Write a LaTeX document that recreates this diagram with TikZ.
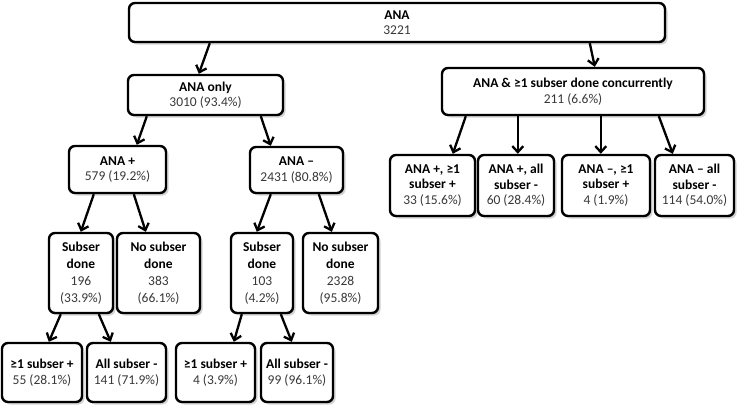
\documentclass[tikz,border=0pt]{standalone}
\usepackage{fontspec}
\setmainfont{Carlito}
\usetikzlibrary{arrows.meta,shadows}
\definecolor{numtxt}{HTML}{383838}
\tikzset{
  box/.style={draw=black, line width=2.4pt, rounded corners=6pt, fill=white,
    align=center, inner sep=0pt, font=\fontsize{13.5}{15.5}\selectfont,
    drop shadow={opacity=0.35, shadow xshift=2.5pt, shadow yshift=-2.5pt}},
  tallbox/.style={box, font=\fontsize{13.5}{17}\selectfont},
  conn/.style={line width=2.3pt, -{Straight Barb[length=6pt,width=11pt,line width=2.3pt]}}
}
\newcommand{\hd}[1]{\textbf{#1}}
\newcommand{\nm}[1]{\textcolor{numtxt}{#1}}
\begin{document}
\begin{tikzpicture}[x=1pt,y=-1pt]
\useasboundingbox (0,0) rectangle (744,407);
% row 0
\node[box, minimum width=536pt, minimum height=39pt] (ana) at (397,22.5) {\hd{ANA}\\\nm{3221}};
% row 1
\node[box, minimum width=155pt, minimum height=40pt] (only) at (205.5,95) {\hd{ANA only}\\\nm{3010 (93.4\%)}};
\node[box, minimum width=262pt, minimum height=47pt] (conc) at (573,91.5) {\hd{ANA \& ≥1 subser done concurrently}\\\nm{211 (6.6\%)}};
% concurrent children
\node[box, minimum width=85pt, minimum height=61pt] (c1) at (432.5,185.5) {\hd{ANA +, ≥1}\\\hd{subser +}\\\nm{33 (15.6\%)}};
\node[box, minimum width=76pt, minimum height=61pt] (c2) at (516,185.5) {\hd{ANA +, all}\\\hd{subser -}\\\nm{60 (28.4\%)}};
\node[box, minimum width=88pt, minimum height=61pt] (c3) at (606,185.5) {\hd{ANA –, ≥1}\\\hd{subser +}\\\nm{4 (1.9\%)}};
\node[box, minimum width=79pt, minimum height=61pt] (c4) at (694.5,185.5) {\hd{ANA – all}\\\hd{subser -}\\\nm{114 (54.0\%)}};
% row 2
\node[box, minimum width=97pt, minimum height=47pt] (anap) at (117.5,169.5) {\hd{ANA +}\\\nm{579 (19.2\%)}};
\node[box, minimum width=93pt, minimum height=46pt] (anam) at (296.5,170) {\hd{ANA –}\\\nm{2431 (80.8\%)}};
% row 3
\node[tallbox, minimum width=64pt, minimum height=80pt] (sd1) at (81,273) {\hd{Subser}\\\hd{done}\\\nm{196}\\\nm{(33.9\%)}};
\node[tallbox, minimum width=83pt, minimum height=80pt] (ns1) at (158.5,273) {\hd{No subser}\\\hd{done}\\\nm{383}\\\nm{(66.1\%)}};
\node[tallbox, minimum width=62pt, minimum height=80pt] (sd2) at (262,273) {\hd{Subser}\\\hd{done}\\\nm{103}\\\nm{(4.2\%)}};
\node[tallbox, minimum width=75pt, minimum height=80pt] (ns2) at (340.5,273) {\hd{No subser}\\\hd{done}\\\nm{2328}\\\nm{(95.8\%)}};
% row 4
\node[box, minimum width=80pt, minimum height=59pt] (b1) at (42,372.5) {\hd{≥1 subser +}\\\nm{55 (28.1\%)}};
\node[box, minimum width=79pt, minimum height=59pt] (b2) at (126.5,372.5) {\hd{All subser -}\\\nm{141 (71.9\%)}};
\node[box, minimum width=79pt, minimum height=59pt] (b3) at (215.5,372.5) {\hd{≥1 subser +}\\\nm{4 (3.9\%)}};
\node[box, minimum width=72pt, minimum height=59pt] (b4) at (297,372.5) {\hd{All subser -}\\\nm{99 (96.1\%)}};
% connectors
\draw[conn] ([xshift=82pt]ana.south west) -- ([xshift=72pt]only.north west);
\draw[conn] ([xshift=462pt]ana.south west) -- ([xshift=154pt]conc.north west);
\draw[conn] ([xshift=20pt]only.south west) -- ([xshift=69pt]anap.north west);
\draw[conn] ([xshift=134pt]only.south west) -- ([xshift=22pt]anam.north west);
\draw[conn] ([xshift=25pt]conc.south west) -- ([xshift=64pt]c1.north west);
\draw[conn] ([xshift=77pt]conc.south west) -- ([xshift=41pt]c2.north west);
\draw[conn] ([xshift=160pt]conc.south west) -- ([xshift=40pt]c3.north west);
\draw[conn] ([xshift=218pt]conc.south west) -- ([xshift=19pt]c4.north west);
\draw[conn] ([xshift=26pt]anap.south west) -- ([xshift=33pt]sd1.north west);
\draw[conn] ([xshift=66pt]anap.south west) -- ([xshift=30pt]ns1.north west);
\draw[conn] ([xshift=22pt]anam.south west) -- ([xshift=27pt]sd2.north west);
\draw[conn] ([xshift=70pt]anam.south west) -- ([xshift=30pt]ns2.north west);
\draw[conn] ([xshift=13pt]sd1.south west) -- ([xshift=48pt]b1.north west);
\draw[conn] ([xshift=51pt]sd1.south west) -- ([xshift=25pt]b2.north west);
\draw[conn] ([xshift=12pt]sd2.south west) -- ([xshift=59pt]b3.north west);
\draw[conn] ([xshift=51pt]sd2.south west) -- ([xshift=32pt]b4.north west);
\end{tikzpicture}
\end{document}
